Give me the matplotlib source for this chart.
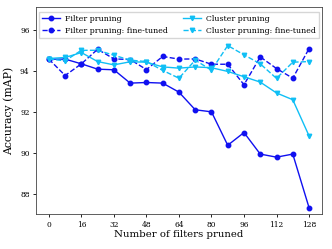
import matplotlib
matplotlib.use('Agg')
import matplotlib.pyplot as plt
import numpy as np

plt.rcParams['font.family'] = 'DejaVu Serif'

# number of filters pruned
n_pruned = list(range(0, 129, 8))

filter_acc = [94.57, 94.57, 94.34, 94.08, 94.05, 93.40, 93.43, 93.40, 92.96,
              92.10, 92.00, 90.37, 90.99, 89.94, 89.79, 89.94, 87.33]
filter_ft = [94.57, 93.77, 94.34, 95.05, 94.58, 94.55, 94.06, 94.70, 94.57,
             94.58, 94.32, 94.32, 93.32, 94.68, 94.11, 93.64, 95.08]
cluster_acc = [94.60, 94.65, 94.89, 94.45, 94.29, 94.44, 94.42, 94.19, 94.13,
               94.19, 94.15, 93.97, 93.71, 93.45, 92.92, 92.59, 90.83]
cluster_ft = [94.57, 94.49, 95.00, 95.00, 94.76, 94.52, 94.45, 94.02, 93.64,
              94.52, 94.03, 95.23, 94.78, 94.34, 93.63, 94.42, 94.45]

fig, ax = plt.subplots(figsize=(3.32, 2.49), dpi=100)

blue = '#1010f0'
light = '#10bff5'
ax.plot(n_pruned, filter_acc, '-', marker='o', color=blue, ms=3.2, lw=1, label='Filter pruning')
ax.plot(n_pruned, filter_ft, '--', marker='o', color=blue, ms=3.2, lw=1, label='Filter pruning: fine-tuned')
ax.plot(n_pruned, cluster_acc, '-', marker='v', color=light, ms=3.2, lw=1, label='Cluster pruning')
ax.plot(n_pruned, cluster_ft, '--', marker='v', color=light, ms=3.2, lw=1, label='Cluster pruning: fine-tuned')

ax.set_xticks(np.arange(0, 129, 16))
ax.set_yticks([88, 90, 92, 94, 96])
ax.set_ylim(87.0, 97.1)
ax.tick_params(labelsize=5.4, length=2.5, width=0.6, pad=2)
ax.set_xlabel('Number of filters pruned', fontsize=7.3, labelpad=1)
ax.set_ylabel('Accuracy (mAP)', fontsize=7.8, labelpad=4)
for s in ax.spines.values():
    s.set_linewidth(0.6)
    s.set_color('#444444')

ax.legend(ncol=2, fontsize=5.6, loc='upper center', frameon=True, fancybox=False,
          borderpad=0.4, handlelength=2.3, columnspacing=2.0, labelspacing=0.5,
          handletextpad=0.6, borderaxespad=0.6, edgecolor='#cccccc')

fig.subplots_adjust(left=0.108, right=0.97, top=0.971, bottom=0.139)
fig.savefig('out.png', dpi=100)
